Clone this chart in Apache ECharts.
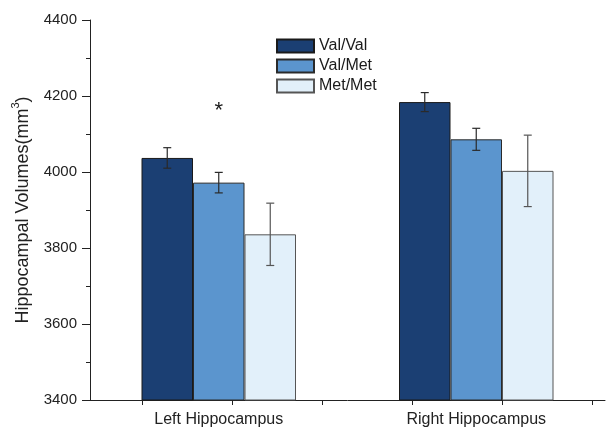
<!DOCTYPE html>
<html>
<head>
<meta charset="utf-8">
<script src="https://cdn.jsdelivr.net/npm/echarts@6/dist/echarts.min.js"></script>
<style>html,body{margin:0;padding:0;background:#fff}#c{width:609px;height:431px}</style>
</head>
<body>
<div id="c"></div>
<script>
var categories = ['Left Hippocampus', 'Right Hippocampus'];
var seriesNames = ['Val/Val', 'Val/Met', 'Met/Met'];
var valVal = [4037, 4184];
var valMet = [3972, 4086];
var metMet = [3836, 4003];
var valValErr = [27, 25];
var valMetErr = [27, 29];
var metMetErr = [82, 94];
var yMin = 3400, yMax = 4400, yInterval = 200;
var xTicks = [0, 1, 2, 3, 4, 5];
var starValue = 4160;

var colors = ['#1B3F73', '#5B95CE', '#E2F0FA'];
var borders = ['#1a1a1a', '#2a2a2a', '#555555'];
var values = [valVal, valMet, metMet];
var errs = [valValErr, valMetErr, metMetErr];
var font = 'Liberation Sans, Arial, sans-serif';
var BAR_FRAC = 0.2;

var chart = echarts.init(document.getElementById('c'), null, {renderer: 'canvas'});

var series = [];
seriesNames.forEach(function (name, k) {
  var s = {
    name: name,
    type: 'bar',
    xAxisIndex: 0,
    yAxisIndex: 0,
    data: values[k],
    barWidth: (BAR_FRAC * 100) + '%',
    barGap: '0%',
    itemStyle: {color: colors[k], borderColor: borders[k], borderWidth: 1},
    emphasis: {disabled: true},
    z: 2
  };
  if (k === 1) {
    s.markPoint = {
      symbol: 'circle',
      symbolSize: 1,
      itemStyle: {color: 'rgba(0,0,0,0)'},
      label: {show: true, position: 'inside', formatter: '*', fontSize: 22, color: '#1a1a1a', fontFamily: font},
      data: [{coord: [0, starValue]}]
    };
  }
  series.push(s);
});

seriesNames.forEach(function (name, k) {
  var d = values[k].map(function (v, i) { return [i, v - errs[k][i], v + errs[k][i]]; });
  series.push({
    type: 'custom',
    xAxisIndex: 0,
    yAxisIndex: 0,
    z: 5,
    silent: true,
    data: d,
    encode: {x: 0, y: [1, 2]},
    renderItem: function (params, api) {
      var band = api.size([1, 0])[0];
      var off = band * BAR_FRAC * (k - 1);
      var lo = api.coord([api.value(0), api.value(1)]);
      var hi = api.coord([api.value(0), api.value(2)]);
      var x = lo[0] + off;
      var cap = 4;
      var st = {stroke: k === 2 ? '#555' : '#2a2a2a', lineWidth: 1.2};
      return {
        type: 'group',
        children: [
          {type: 'line', shape: {x1: x, y1: lo[1], x2: x, y2: hi[1]}, style: st},
          {type: 'line', shape: {x1: x - cap, y1: lo[1], x2: x + cap, y2: lo[1]}, style: st},
          {type: 'line', shape: {x1: x - cap, y1: hi[1], x2: x + cap, y2: hi[1]}, style: st}
        ]
      };
    }
  });
});

// x-axis tick marks on the secondary (tick) axis
series.push({
  type: 'custom',
  xAxisIndex: 1,
  yAxisIndex: 1,
  silent: true,
  clip: false,
  z: 100,
  data: xTicks.map(function (t) { return [t, 0]; }),
  renderItem: function (params, api) {
    var p = api.coord([api.value(0), 0]);
    var x = Math.round(p[0]) + 0.5;
    return {type: 'line', shape: {x1: x, y1: p[1], x2: x, y2: p[1] + 5}, style: {stroke: '#222', lineWidth: 1}};
  }
});

var option = {
  animation: false,
  backgroundColor: '#fff',
  textStyle: {fontFamily: font},
  grid: [
    {left: 90, top: 20, width: 515, height: 380, containLabel: false},
    {left: 142, top: 20, width: 450, height: 380, containLabel: false}
  ],
  legend: {
    data: seriesNames,
    orient: 'vertical',
    left: 276,
    top: 38,
    padding: 0,
    itemWidth: 37,
    itemHeight: 13,
    itemGap: 4,
    icon: 'rect',
    textStyle: {fontSize: 16, lineHeight: 16, color: '#1a1a1a', fontFamily: font},
    selectedMode: false
  },
  xAxis: [
    {
      type: 'category',
      gridIndex: 0,
      data: categories,
      boundaryGap: true,
      axisLine: {lineStyle: {color: '#222', width: 1}},
      axisTick: {show: false},
      axisLabel: {fontSize: 16, color: '#222', margin: 12, fontFamily: font}
    },
    {
      type: 'value',
      gridIndex: 1,
      min: xTicks[0],
      max: xTicks[xTicks.length - 1],
      show: false
    }
  ],
  yAxis: [
    {
      type: 'value',
      gridIndex: 0,
      min: yMin,
      max: yMax,
      interval: yInterval,
      name: '{a|Hippocampal Volumes(mm}{s|3}{a|)}',
      nameLocation: 'middle',
      nameGap: 58,
      nameTextStyle: {
        rich: {
          a: {fontSize: 18, color: '#222', fontFamily: font, lineHeight: 22, verticalAlign: 'bottom'},
          s: {fontSize: 11, color: '#222', fontFamily: font, lineHeight: 22, verticalAlign: 'top'}
        }
      },
      axisLine: {show: true, lineStyle: {color: '#222', width: 1}},
      axisTick: {show: true, length: 8, lineStyle: {color: '#222', width: 1}},
      minorTick: {show: true, splitNumber: 2, length: 4, lineStyle: {color: '#222', width: 1}},
      axisLabel: {fontSize: 15, color: '#222', margin: 13, fontFamily: font, formatter: function (v) { return String(v); }},
      splitLine: {show: false}
    },
    {
      type: 'value',
      gridIndex: 1,
      min: 0,
      max: 1,
      show: false
    }
  ],
  series: series
};
chart.setOption(option);
</script>
</body>
</html>
